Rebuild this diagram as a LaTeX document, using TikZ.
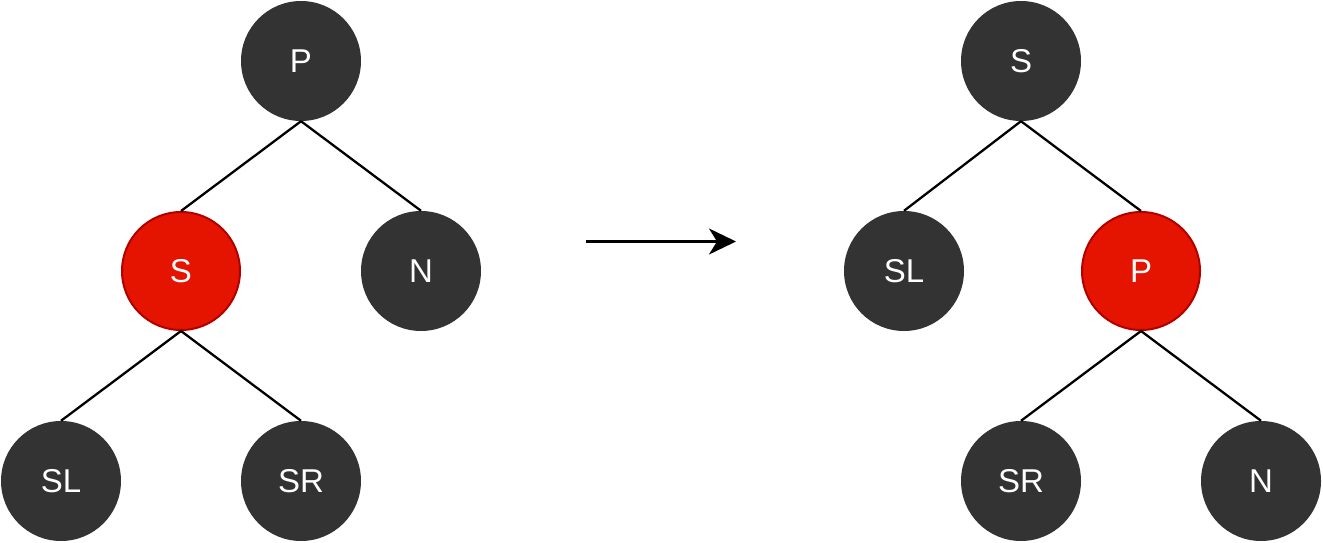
\documentclass[tikz,border=0pt]{standalone}
\usepackage{fontspec}
\setmainfont{Liberation Sans}
\usetikzlibrary{arrows.meta}
\definecolor{nodedark}{HTML}{333333}
\definecolor{nodered}{HTML}{E51400}
\definecolor{nodeline}{HTML}{B20000}
\begin{document}
\begin{tikzpicture}[x=1pt,y=-1pt,
  treenode/.style={circle,minimum size=120pt,inner sep=0pt,text=white,
    font=\fontsize{33}{40}\selectfont},
  blacknode/.style={treenode,fill=nodedark},
  rednode/.style={treenode,fill=nodered,draw=nodeline,line width=2pt,minimum size=118pt},
  edge/.style={line width=2.3pt,black}]
\useasboundingbox (0,0) rectangle (1323,543);

% tree before the rotation
\node[blacknode] (lp)  at (301,61)  {P};
\node[rednode]   (ls)  at (181,271) {S};
\node[blacknode] (ln)  at (421,271) {N};
\node[blacknode] (lsl) at (61,481)  {SL};
\node[blacknode] (lsr) at (301,481) {SR};
\draw[edge] (lp.south) -- (ls.north);
\draw[edge] (lp.south) -- (ln.north);
\draw[edge] (ls.south) -- (lsl.north);
\draw[edge] (ls.south) -- (lsr.north);

% rotation arrow
\coordinate (astart) at (586,241.5);
\coordinate (aend)   at (736,241.5);
\draw[line width=2.3pt,-{Stealth[length=27pt,width=26pt,inset=8pt]}] (astart) -- (aend);

% tree after the rotation
\node[blacknode] (rs)  at (1021,61)  {S};
\node[blacknode] (rsl) at (904,271)  {SL};
\node[rednode]   (rp)  at (1141,271) {P};
\node[blacknode] (rsr) at (1021,481) {SR};
\node[blacknode] (rn)  at (1261,481) {N};
\draw[edge] (rs.south) -- (rsl.north);
\draw[edge] (rs.south) -- (rp.north);
\draw[edge] (rp.south) -- (rsr.north);
\draw[edge] (rp.south) -- (rn.north);
\end{tikzpicture}
\end{document}
